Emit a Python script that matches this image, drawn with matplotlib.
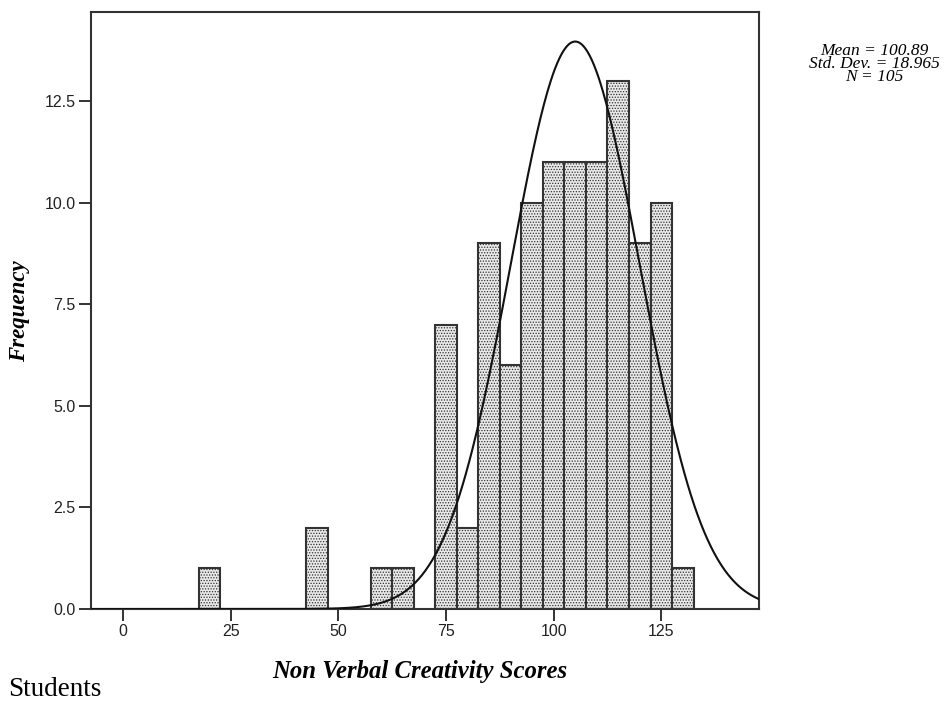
import numpy as np
import matplotlib
matplotlib.use("Agg")
import matplotlib.pyplot as plt

# Histogram data (bin centers, bin width 5)
bin_centers = [20, 45, 60, 65, 75, 80, 85, 90, 95, 100, 105, 110, 115, 120, 125, 130]
frequencies = [1, 2, 1, 1, 7, 2, 9, 6, 10, 11, 11, 11, 13, 9, 10, 1]
bin_width = 5

# Stats shown in annotation
stat_mean = 100.89
stat_sd = 18.965
stat_n = 105

# Normal curve parameters as drawn in the figure
curve_mean = 105.0
curve_sd = 15.0

x_ticks = [0, 25, 50, 75, 100, 125]
y_ticks = [0.0, 2.5, 5.0, 7.5, 10.0, 12.5]

plt.rcParams['hatch.color'] = '#5e5e5e'
plt.rcParams['hatch.linewidth'] = 0.6

fig = plt.figure(figsize=(9.51, 7.01), dpi=100)
ax = fig.add_axes([91/951, 1 - 609/701, (759-91)/951, (609-12)/701])

ax.bar(bin_centers, frequencies, width=bin_width, facecolor='#e8e8e8',
       edgecolor='#333333', linewidth=1.5, hatch='......', zorder=2)

xmin, xmax = -7.5, 147.7
xs = np.linspace(xmin, xmax, 600)
scale = stat_n * bin_width
ys = scale / (curve_sd * np.sqrt(2 * np.pi)) * np.exp(-0.5 * ((xs - curve_mean) / curve_sd) ** 2)
ax.plot(xs, ys, color='#111111', linewidth=1.5, zorder=3)

ax.set_xlim(xmin, xmax)
ax.set_ylim(0, 14.69)
ax.set_xticks(x_ticks)
ax.set_xticklabels([str(t) for t in x_ticks])
ax.set_yticks(y_ticks)
ax.set_yticklabels([f"{t:.1f}" for t in y_ticks])
ax.tick_params(direction='out', length=8.5, width=1.4, color='#333333', labelsize=11.5,
               labelcolor='#222222', pad=2.5)
for lab in ax.get_xticklabels() + ax.get_yticklabels():
    lab.set_fontfamily('Liberation Sans')
for s in ax.spines.values():
    s.set_linewidth(1.5)
    s.set_color('#333333')

ax.set_xlabel('Non Verbal Creativity Scores', fontfamily='Liberation Serif',
              fontstyle='italic', fontweight='bold', fontsize=17.8)
ax.xaxis.set_label_coords((420 - 91) / 668, (609 - 660) / 597)
ax.set_ylabel('Frequency', fontfamily='Liberation Serif',
              fontstyle='italic', fontweight='bold', fontsize=16.5)
ax.yaxis.set_label_coords((30 - 91) / 668, (609 - 311) / 597)

fig.text(874/951, 1 - 64/701,
         f"Mean = {stat_mean:.2f}\nStd. Dev. = {stat_sd:.3f}\nN = {stat_n}",
         ha='center', va='center', fontfamily='Liberation Serif', fontstyle='italic',
         fontsize=12.5, linespacing=0.72)

fig.text(8/951, 1 - 689/701, 'Students', ha='left', va='center',
         fontfamily='Liberation Serif', fontsize=19.5)

fig.savefig('out.png', dpi=100)
